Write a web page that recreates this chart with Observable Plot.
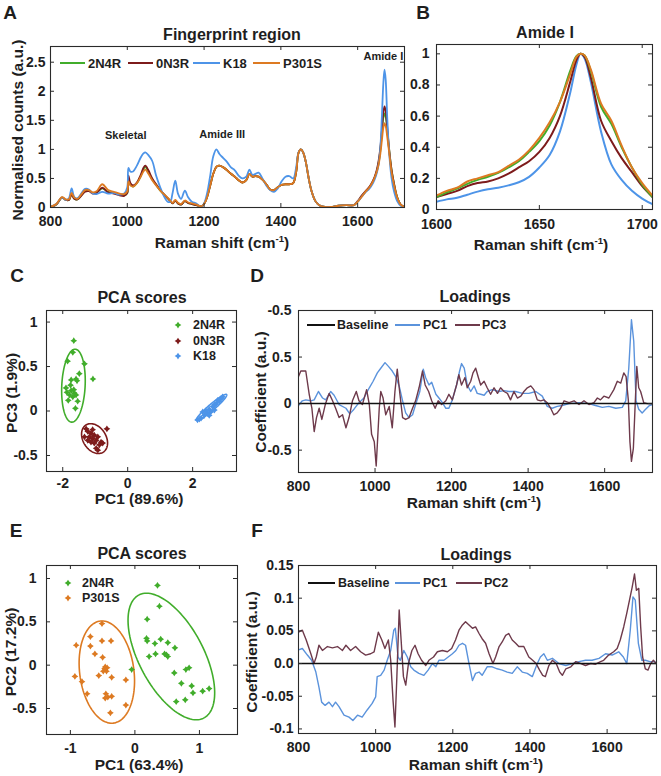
<!DOCTYPE html>
<html><head><meta charset="utf-8">
<script src="https://cdn.jsdelivr.net/npm/d3@7"></script>
<script src="https://cdn.jsdelivr.net/npm/@observablehq/plot@0.6"></script>
<style>
body{margin:0;background:#fff;}
#fig{position:relative;width:661px;height:776px;overflow:hidden;background:#fff;font-family:"Liberation Sans",Arial,Helvetica,sans-serif;font-weight:bold;color:#1e1e1e;}
sup{font-size:0.62em;line-height:0;vertical-align:0.6em;}
</style></head><body><div id="fig"></div>
<script>
// ---------------- DATA ----------------
// Panel A: fingerprint region spectra
const wnA = [800,815,830,840,848,855,862,870,880,890,900,910,920,935,950,965,980,992,1000,1003,1008,1015,1025,1035,1042,1047,1055,1065,1075,1085,1095,1105,1112,1118,1125,1132,1140,1150,1158,1168,1180,1192,1200,1208,1216,1224,1232,1240,1250,1260,1270,1280,1290,1300,1310,1318,1326,1334,1342,1352,1362,1372,1382,1392,1402,1412,1422,1432,1440,1446,1452,1458,1465,1472,1480,1490,1500,1515,1530,1550,1570,1590,1600,1610,1620,1630,1640,1648,1654,1659,1663,1667,1670,1673,1677,1682,1688,1695,1703,1712,1722];
const a2N4R = [0.01,0.05,0.17,0.13,0.13,0.23,0.15,0.14,0.21,0.28, 0.29,0.25,0.26,0.33,0.27,0.25,0.22,0.21,0.25,0.50, 0.39,0.36,0.42,0.54,0.66,0.70,0.61,0.48,0.39,0.30, 0.23,0.16,0.11,0.07,0.12,0.07,0.05,0.11,0.08,0.06, 0.04,0.02,0.06,0.18,0.38,0.58,0.70,0.72,0.69,0.64, 0.58,0.53,0.47,0.43,0.47,0.58,0.53,0.54,0.53,0.48, 0.40,0.31,0.30,0.35,0.39,0.40,0.40,0.42,0.62,0.94, 1.00,0.95,0.78,0.52,0.28,0.11,0.04,0.01,0.01,0.03, 0.04,0.04,0.10,0.19,0.27,0.34,0.45,0.58,0.75,0.98, 1.28,1.55,1.62,1.56,1.33,1.00,0.66,0.40,0.18,0.05,0.01];
const a0N3R = [0.01,0.05,0.17,0.13,0.13,0.22,0.15,0.14,0.20,0.27, 0.28,0.24,0.25,0.34,0.26,0.24,0.21,0.20,0.25,0.55, 0.42,0.38,0.43,0.56,0.68,0.72,0.64,0.50,0.40,0.31, 0.23,0.16,0.11,0.07,0.12,0.07,0.05,0.11,0.08,0.06, 0.04,0.02,0.06,0.18,0.38,0.58,0.70,0.72,0.69,0.64, 0.58,0.53,0.47,0.43,0.47,0.58,0.53,0.54,0.53,0.48, 0.40,0.31,0.30,0.35,0.39,0.40,0.40,0.42,0.62,0.94, 1.00,0.95,0.78,0.52,0.28,0.11,0.04,0.01,0.01,0.03, 0.04,0.04,0.11,0.20,0.28,0.35,0.46,0.60,0.78,1.02, 1.32,1.64,1.74,1.66,1.38,1.00,0.66,0.40,0.17,0.05,0.01];
const aK18 = [0.01,0.06,0.17,0.13,0.16,0.33,0.18,0.16,0.24,0.32, 0.31,0.24,0.23,0.27,0.24,0.25,0.22,0.24,0.35,0.68, 0.62,0.62,0.72,0.86,0.93,0.95,0.90,0.80,0.55,0.36, 0.20,0.10,0.10,0.25,0.46,0.24,0.15,0.29,0.18,0.10, 0.07,0.01,0.07,0.25,0.55,0.88,1.00,0.92,0.85,0.78, 0.69,0.64,0.55,0.50,0.53,0.65,0.56,0.58,0.60,0.50, 0.38,0.30,0.27,0.33,0.45,0.53,0.54,0.50,0.70,0.95, 1.00,0.95,0.78,0.52,0.28,0.11,0.04,0.01,0.01,0.03, 0.04,0.04,0.10,0.18,0.26,0.32,0.42,0.55,0.72,1.02, 1.55,2.15,2.37,2.20,1.55,0.95,0.52,0.27,0.11,0.03,0.01];
const aP301S = [0.01,0.06,0.18,0.14,0.14,0.25,0.17,0.15,0.22,0.30, 0.30,0.26,0.28,0.40,0.30,0.27,0.24,0.23,0.28,0.45, 0.38,0.36,0.42,0.53,0.62,0.65,0.58,0.47,0.38,0.30, 0.23,0.17,0.12,0.08,0.13,0.08,0.06,0.12,0.09,0.07, 0.05,0.02,0.06,0.18,0.38,0.58,0.70,0.72,0.69,0.64, 0.58,0.53,0.47,0.43,0.47,0.58,0.53,0.54,0.53,0.48, 0.40,0.31,0.30,0.35,0.39,0.40,0.40,0.42,0.62,0.94, 1.00,0.95,0.78,0.52,0.28,0.11,0.04,0.01,0.01,0.03, 0.04,0.04,0.10,0.18,0.27,0.34,0.45,0.58,0.72,0.92, 1.15,1.38,1.45,1.40,1.22,0.95,0.62,0.38,0.17,0.05,0.01];
const annA = [{label:"Skeletal", x:996, y:1.24},{label:"Amide III", x:1247, y:1.26},{label:"Amide I", x:1667, y:2.6}];

// Panel B: amide I normalised
const wnB = [1600,1605,1610,1615,1620,1625,1630,1635,1640,1645,1650,1655,1660,1665,1668,1670,1672,1675,1680,1685,1690,1695,1700,1705];
const b2N4R = [0.08,0.11,0.135,0.165,0.19,0.21,0.235,0.27,0.31,0.37,0.44,0.54,0.69,0.89,0.985,1.0,0.99,0.89,0.66,0.55,0.40,0.27,0.16,0.08];
const b0N3R = [0.08,0.10,0.12,0.15,0.17,0.18,0.20,0.23,0.27,0.31,0.37,0.46,0.60,0.82,0.96,1.0,0.98,0.85,0.57,0.44,0.33,0.24,0.15,0.08];
const bK18 = [0.05,0.065,0.075,0.095,0.115,0.13,0.14,0.155,0.175,0.21,0.27,0.35,0.50,0.75,0.93,1.0,0.97,0.82,0.50,0.29,0.19,0.12,0.07,0.035];
const bP301S = [0.09,0.12,0.14,0.18,0.20,0.22,0.24,0.28,0.32,0.38,0.46,0.56,0.69,0.87,0.98,1.0,0.99,0.90,0.68,0.57,0.41,0.27,0.17,0.09];

// Panel C: PCA scores (PC1 vs PC3)
const c2N4R = [[-1.66,0.79],[-1.69,0.66],[-1.85,0.56],[-1.33,0.53],[-1.07,0.36],[-1.49,0.42],[-1.59,0.36],[-1.74,0.35],[-1.76,0.29],[-1.90,0.26],[-1.64,0.20],[-1.79,0.18],[-1.69,0.16],[-1.59,0.18],[-1.83,0.12],[-1.54,0.11],[-1.61,0.03],[-1.74,0.23],[-1.87,0.21],[-1.66,0.24],[-1.56,0.34]];
const c0N3R = [[-1.28,-0.20],[-1.23,-0.23],[-1.13,-0.25],[-1.03,-0.27],[-1.18,-0.29],[-1.08,-0.31],[-0.97,-0.33],[-0.92,-0.29],[-1.13,-0.35],[-1.03,-0.36],[-0.82,-0.35],[-0.87,-0.38],[-0.97,-0.42],[-0.92,-0.44],[-1.23,-0.33],[-1.33,-0.29],[-0.64,-0.20],[-0.77,-0.36],[-1.08,-0.21]];
const cK18 = [[2.15,-0.10],[2.26,-0.08],[2.36,-0.05],[2.31,-0.01],[2.46,-0.03],[2.51,0.02],[2.62,0.05],[2.67,0.01],[2.72,0.08],[2.82,0.11],[2.87,0.14],[2.77,0.12],[2.56,-0.01],[2.41,0.00],[2.21,-0.09],[2.92,0.16],[2.67,0.07],[2.51,-0.05]];
// ellipse parameters: centre and affine axes
const ellC = [
  {g:"2N4R", cx:-1.67, cy:0.285, a:0.36, b:0.05, c:0.0, d:0.41},
  {g:"0N3R", cx:-1.02, cy:-0.31, a:0.40, b:0.0, c:-0.05, d:0.16},
  {g:"K18", cx:2.58, cy:0.04, a:0.47, b:0.0, c:0.14, d:0.045}
];

// Panel D: loadings PC1 / PC3
const wnDpc1 = [800,810,819,832,841,852,863,871,884,893,906,924,934,945,958,971,985,995,1006,1015,1026,1035,1045,1054,1063,1072,1080,1089,1098,1106,1117,1126,1132,1141,1148,1159,1167,1176,1185,1193,1202,1213,1221,1226,1233,1241,1250,1259,1267,1276,1285,1293,1306,1324,1337,1350,1367,1385,1402,1420,1437,1450,1463,1476,1489,1507,1533,1559,1576,1594,1611,1629,1646,1655,1663,1670,1676,1682,1689,1698,1707,1717,1725];
const dPC1 = [-0.02,0.03,0.04,0.03,0.04,0.13,0.06,0.04,0.13,0.09,-0.01,-0.05,-0.11,-0.06,0.01,0.06,0.17,0.24,0.33,0.38,0.44,0.40,0.35,0.29,0.19,0.03,-0.10,-0.15,-0.12,-0.01,0.13,0.37,0.28,0.20,0.23,0.10,0.06,0.01,-0.05,-0.05,0.04,0.20,0.35,0.43,0.38,0.20,0.13,0.19,0.11,0.10,0.09,0.13,0.15,0.13,0.14,0.13,0.13,0.11,0.11,0.13,0.08,-0.03,-0.05,-0.03,-0.02,0.00,0.01,0.00,-0.02,-0.04,-0.03,-0.05,-0.04,0.03,0.38,0.90,0.67,0.03,-0.06,-0.10,-0.06,-0.02,-0.01];
const wnDpc3 = [800,806,819,828,835,841,847,854,861,870,880,889,897,906,915,924,932,941,951,958,967,978,985,991,998,1003,1006,1011,1015,1021,1028,1037,1045,1052,1058,1065,1072,1080,1089,1098,1106,1115,1124,1131,1140,1148,1157,1165,1174,1185,1193,1202,1213,1219,1226,1235,1241,1250,1256,1263,1270,1276,1285,1293,1302,1311,1320,1328,1337,1346,1354,1363,1372,1381,1389,1398,1407,1415,1424,1433,1441,1450,1459,1467,1476,1485,1494,1507,1520,1533,1546,1559,1572,1581,1589,1598,1611,1624,1633,1642,1650,1656,1662,1666,1670,1675,1679,1684,1689,1694,1702,1711,1724];
const dPC3 = [0.29,0.35,0.35,0.10,-0.05,-0.30,-0.15,-0.05,-0.17,-0.01,0.11,0.03,-0.05,-0.15,-0.12,-0.26,-0.15,0.03,0.13,0.03,-0.01,0.15,-0.01,-0.33,-0.41,-0.67,-0.44,-0.05,0.13,0.06,-0.12,-0.03,-0.26,0.13,0.37,0.10,-0.15,-0.17,-0.15,-0.05,0.03,0.17,0.35,0.20,0.13,0.03,-0.05,0.03,-0.01,0.03,0.10,0.04,0.20,0.31,0.20,0.28,0.17,0.24,0.33,0.38,0.28,0.20,0.24,0.17,0.10,0.17,0.11,0.17,0.13,0.11,0.04,0.13,0.06,0.08,0.13,0.17,0.19,0.15,0.04,0.03,0.04,0.01,-0.05,-0.12,-0.10,-0.05,0.03,0.01,0.03,-0.01,0.03,-0.01,0.01,0.06,0.04,0.08,0.06,0.15,0.24,0.22,0.33,0.29,0.03,-0.41,-0.62,-0.48,-0.08,0.40,0.17,0.13,0.01,0.00,0.00];
const dYTicks = [-0.5,0,0.5,1];
const dYLabels = ["-0.5","0","0.5","-0.5"];

// Panel E: PCA scores (PC1 vs PC2)
const e2N4R = [[0.35,0.92],[0.38,0.68],[0.19,0.53],[0.18,0.31],[0.19,0.28],[0.31,0.25],[0.40,0.30],[0.51,0.26],[0.62,0.20],[0.46,0.13],[0.49,0.12],[0.51,0.10],[0.32,0.13],[0.22,0.10],[-0.05,-0.05],[0.61,-0.09],[0.79,-0.05],[0.84,-0.03],[0.72,-0.21],[0.88,-0.24],[0.90,-0.32],[1.05,-0.30],[1.15,-0.27],[0.64,-0.42],[0.78,-0.40]];
const eP301S = [[-0.51,0.48],[-0.69,0.33],[-0.51,0.28],[-0.37,0.28],[-0.91,0.23],[-0.69,0.22],[-0.62,0.13],[-0.50,0.09],[-0.46,-0.02],[-0.43,-0.03],[-0.49,-0.07],[-0.36,-0.14],[-0.56,-0.12],[-0.44,-0.07],[-0.93,-0.13],[-0.82,-0.19],[-0.14,-0.17],[-0.74,-0.33],[-0.45,-0.33],[-0.42,-0.37],[-0.36,-0.36],[-0.46,-0.38],[-0.14,-0.46],[-0.38,-0.55],[-0.47,-0.04]];
const ellE = [
  {g:"2N4R", cx:0.565, cy:0.10, a:0.55, b:-0.385, c:0.0, d:0.73},
  {g:"P301S", cx:-0.435, cy:-0.08, a:0.423, b:-0.075, c:0.0, d:0.59}
];

// Panel F: loadings PC1 / PC2
const wnFpc1 = [800,810,823,834,845,853,860,869,879,888,896,905,918,931,941,953,965,978,991,1000,1004,1013,1022,1030,1039,1047,1051,1058,1064,1073,1082,1091,1099,1112,1125,1136,1147,1156,1164,1177,1188,1199,1208,1216,1225,1233,1242,1251,1259,1268,1276,1289,1302,1315,1328,1341,1354,1367,1380,1393,1406,1419,1427,1436,1445,1458,1475,1493,1510,1527,1544,1561,1579,1596,1613,1630,1642,1651,1660,1667,1673,1681,1690,1699,1711,1724];
const fPC1 = [0.021,0.023,0.013,0.005,-0.013,-0.036,-0.059,-0.064,-0.059,-0.066,-0.059,-0.066,-0.079,-0.082,-0.087,-0.079,-0.082,-0.071,-0.061,-0.051,-0.020,-0.018,-0.010,0.005,0.020,0.051,0.054,0.010,0.005,0.020,0.010,-0.005,-0.010,-0.015,-0.018,-0.010,0.000,-0.005,0.005,0.005,0.010,0.015,0.020,0.028,0.031,0.028,0.000,-0.026,-0.015,-0.013,-0.018,-0.005,-0.005,-0.008,-0.010,-0.013,-0.015,-0.005,-0.013,-0.015,-0.020,0.000,0.010,0.015,0.005,0.008,0.000,-0.003,0.000,0.003,0.005,0.005,0.008,0.015,0.013,0.018,0.010,0.000,0.051,0.102,0.097,0.031,0.005,0.005,0.003,0.003];
const wnFpc2 = [800,810,820,832,840,846,853,862,875,888,901,914,923,935,948,961,974,987,996,1007,1016,1024,1033,1039,1045,1050,1055,1061,1066,1072,1078,1085,1094,1102,1110,1119,1130,1138,1150,1160,1173,1186,1197,1207,1216,1225,1233,1242,1251,1259,1268,1276,1285,1294,1304,1311,1320,1328,1337,1345,1354,1363,1371,1384,1397,1407,1416,1425,1433,1440,1449,1458,1468,1477,1484,1493,1506,1519,1532,1544,1557,1570,1583,1591,1604,1617,1626,1634,1643,1651,1658,1665,1671,1676,1682,1687,1692,1699,1706,1713,1720,1727];
const fPC2 = [0.048,0.051,0.036,0.015,0.000,0.010,0.028,0.020,0.026,0.024,0.026,0.020,0.028,0.020,0.026,0.018,0.013,0.015,0.018,0.048,0.036,0.023,0.036,0.005,-0.056,-0.097,-0.020,0.082,0.036,-0.020,-0.033,0.000,0.020,0.028,0.015,0.005,-0.003,0.005,0.010,0.018,0.020,0.018,0.023,0.036,0.051,0.059,0.064,0.059,0.054,0.056,0.046,0.038,0.031,0.015,0.000,0.010,0.026,0.033,0.043,0.046,0.036,0.031,0.026,0.026,0.010,0.005,0.000,-0.010,-0.018,-0.020,-0.003,0.005,0.000,-0.013,-0.018,-0.008,-0.005,0.003,0.000,-0.003,0.000,-0.001,0.003,0.005,0.013,0.018,0.023,0.036,0.056,0.077,0.097,0.117,0.137,0.112,0.115,0.056,0.010,-0.008,-0.010,0.000,0.005,0.000];
const fYTicks = [-0.1,-0.05,0,0.05,0.1,0.15];
const fYLabels = ["-0.1","-0.05","0.0","0.05","0.1","0.15"];

// names and colours
const groups = ["2N4R","0N3R","K18","P301S"];
const groupColors = {"2N4R":"#41ad2b","0N3R":"#7d1b1b","K18":"#4d94e8","P301S":"#dd7a22"};
const loadNames = ["Baseline","PC1","PC3","PC2"];
const loadColors = {"Baseline":"#111111","PC1":"#5b93dc","PC3":"#6e3a4b","PC2":"#6e3a4b"};

// ---------------- HELPERS ----------------
const fig = document.getElementById("fig");
const FONT = '"Liberation Sans", Arial, Helvetica, sans-serif';
const INK = "#1e1e1e";
const zipXY = (xs, ys, g) => xs.map((x, i) => ({x, y: ys[i], g}));
const pairs = (arr, g) => arr.map(([x, y]) => ({x, y, g}));
function ellipsePts(e, n = 120) {
  return d3.range(n + 1).map(i => {
    const t = 2 * Math.PI * i / n;
    return {x: e.cx + e.a * Math.cos(t) + e.b * Math.sin(t), y: e.cy + e.c * Math.cos(t) + e.d * Math.sin(t), g: e.g};
  });
}
const sparkle = {draw(ctx, size) {
  const s = Math.sqrt(size / Math.PI) * 1.35, k = s * 0.4;
  ctx.moveTo(0, -s); ctx.lineTo(k, -k); ctx.lineTo(s, 0); ctx.lineTo(k, k);
  ctx.lineTo(0, s); ctx.lineTo(-k, k); ctx.lineTo(-s, 0); ctx.lineTo(-k, -k); ctx.closePath();
}};

function addText(html, x, y, size, {rotate = false, align = "center"} = {}) {
  const d = document.createElement("div");
  d.innerHTML = html;
  d.style.cssText = `position:absolute;left:${x}px;top:${y}px;font-size:${size}px;line-height:1;white-space:nowrap;font-weight:bold;`;
  let tr = align === "center" ? "translate(-50%,-50%)" : "translate(0,-50%)";
  if (rotate) tr += " rotate(-90deg)";
  d.style.transform = tr;
  fig.appendChild(d);
}
function addSwatch(x1, x2, y, color, w = 2) {
  const d = document.createElement("div");
  d.style.cssText = `position:absolute;left:${x1}px;top:${y - w / 2}px;width:${x2 - x1}px;height:${w}px;background:${color};`;
  fig.appendChild(d);
}
function addMarker(x, y, color) {
  const ns = "http://www.w3.org/2000/svg";
  const s = document.createElementNS(ns, "svg");
  s.setAttribute("width", 10); s.setAttribute("height", 10);
  s.style.cssText = `position:absolute;left:${x - 5}px;top:${y - 5}px;overflow:visible`;
  const p = d3.path();
  sparkle.draw({moveTo:(a,b)=>p.moveTo(a+5,b+5), lineTo:(a,b)=>p.lineTo(a+5,b+5), closePath:()=>p.closePath()}, Math.PI * 2.5 * 2.5);
  s.innerHTML = `<path d="${p.toString()}" fill="${color}"/>`;
  fig.appendChild(s);
}

function panel({frame: [L, T, R, B], xDomain, yDomain, xTicks, yTicks, xFmt, yFmt, xPad, yPad, marks}) {
  const mL = 50, mR = 14, mT = 14, mB = 32;
  const W = R - L, H = B - T;
  const svg = Plot.plot({
    width: W + mL + mR, height: H + mT + mB,
    marginLeft: mL, marginRight: mR, marginTop: mT, marginBottom: mB,
    x: {domain: xDomain}, y: {domain: yDomain},
    style: {background: "transparent", fontFamily: FONT, fontSize: "14px", fontWeight: "bold", color: INK, overflow: "visible"},
    marks: [
      ...marks,
      Plot.frame({stroke: "#2a2a2a", strokeWidth: 1.1}),
      Plot.tickX(xTicks, {x: d => d, insetTop: H - 4, stroke: "#2a2a2a"}),
      Plot.tickX(xTicks, {x: d => d, insetBottom: H - 4, stroke: "#2a2a2a"}),
      Plot.tickY(yTicks, {y: d => d, insetRight: W - 4, stroke: "#2a2a2a"}),
      Plot.tickY(yTicks, {y: d => d, insetLeft: W - 4, stroke: "#2a2a2a"}),
      Plot.axisX({ticks: xTicks, tickSize: 0, tickPadding: xPad, tickFormat: xFmt, label: null}),
      Plot.axisY({ticks: yTicks, tickSize: 0, tickPadding: yPad, tickFormat: yFmt, label: null})
    ]
  });
  svg.style.position = "absolute";
  svg.style.left = (L - mL) + "px";
  svg.style.top = (T - mT) + "px";
  fig.appendChild(svg);
}
const intFmt = d3.format("d");
const plainFmt = d => String(d);
const colorOf = d => groupColors[d.g];

// ---------------- PANEL A ----------------
const dataA = [...zipXY(wnA, a2N4R, "2N4R"), ...zipXY(wnA, a0N3R, "0N3R"), ...zipXY(wnA, aK18, "K18"), ...zipXY(wnA, aP301S, "P301S")];
panel({
  frame: [50, 46, 404, 207], xDomain: [800, 1722], yDomain: [0, 2.77],
  xTicks: [800, 1000, 1200, 1400, 1600], yTicks: [0, 0.5, 1, 1.5, 2, 2.5],
  xFmt: intFmt, yFmt: plainFmt, xPad: 9, yPad: 5,
  marks: [
    Plot.line(dataA, {x: "x", y: "y", z: "g", stroke: colorOf, strokeWidth: 1.8, curve: "catmull-rom", clip: true}),
    Plot.text(annA, {x: "x", y: "y", text: "label", fontSize: 11, fontWeight: "bold", fill: INK})
  ]
});

// ---------------- PANEL B ----------------
const dataB = [...zipXY(wnB, bK18, "K18"), ...zipXY(wnB, b0N3R, "0N3R"), ...zipXY(wnB, b2N4R, "2N4R"), ...zipXY(wnB, bP301S, "P301S")];
panel({
  frame: [436, 44, 652, 209], xDomain: [1600, 1705], yDomain: [0, 1.06],
  xTicks: [1600, 1650, 1700], yTicks: [0, 0.2, 0.4, 0.6, 0.8, 1],
  xFmt: intFmt, yFmt: plainFmt, xPad: 10, yPad: 7,
  marks: [Plot.line(dataB, {x: "x", y: "y", z: "g", stroke: colorOf, strokeWidth: 2, curve: "catmull-rom", clip: true})]
});

// ---------------- PANEL C ----------------
const dataC = [...pairs(c2N4R, "2N4R"), ...pairs(c0N3R, "0N3R"), ...pairs(cK18, "K18")];
const ellCpts = ellC.flatMap(e => ellipsePts(e));
panel({
  frame: [46, 310, 236, 471], xDomain: [-2.5, 3.35], yDomain: [-0.68, 1.13],
  xTicks: [-2, 0, 2], yTicks: [-0.5, 0, 0.5, 1],
  xFmt: plainFmt, yFmt: plainFmt, xPad: 7, yPad: 9,
  marks: [
    Plot.line(ellCpts, {x: "x", y: "y", z: "g", stroke: colorOf, strokeWidth: 1.6}),
    Plot.dot(dataC, {x: "x", y: "y", fill: colorOf, symbol: sparkle, r: 2.5})
  ]
});

// ---------------- PANEL D ----------------
const dataD = [...zipXY(wnDpc1, dPC1, "PC1"), ...zipXY(wnDpc3, dPC3, "PC3")];
panel({
  frame: [298, 310, 652, 472], xDomain: [800, 1725], yDomain: [-0.74, 1.0],
  xTicks: [800, 1000, 1200, 1400, 1600], yTicks: dYTicks,
  xFmt: intFmt, yFmt: d => dYLabels[dYTicks.indexOf(d)], xPad: 9, yPad: 7,
  marks: [
    Plot.line(dataD, {x: "x", y: "y", z: "g", stroke: d => loadColors[d.g], strokeWidth: 1.4, clip: true}),
    Plot.ruleY([0], {stroke: loadColors.Baseline, strokeWidth: 1.5})
  ]
});

// ---------------- PANEL E ----------------
const dataE = [...pairs(e2N4R, "2N4R"), ...pairs(eP301S, "P301S")];
const ellEpts = ellE.flatMap(e => ellipsePts(e));
panel({
  frame: [46, 565, 237, 734], xDomain: [-1.37, 1.59], yDomain: [-0.8, 1.15],
  xTicks: [-1, 0, 1], yTicks: [-0.5, 0, 0.5, 1],
  xFmt: plainFmt, yFmt: plainFmt, xPad: 9, yPad: 10,
  marks: [
    Plot.line(ellEpts, {x: "x", y: "y", z: "g", stroke: colorOf, strokeWidth: 1.6}),
    Plot.dot(dataE, {x: "x", y: "y", fill: colorOf, symbol: sparkle, r: 2.5})
  ]
});

// ---------------- PANEL F ----------------
const dataF = [...zipXY(wnFpc1, fPC1, "PC1"), ...zipXY(wnFpc2, fPC2, "PC2")];
panel({
  frame: [298, 565, 656, 733], xDomain: [800, 1728], yDomain: [-0.107, 0.15],
  xTicks: [800, 1000, 1200, 1400, 1600], yTicks: fYTicks,
  xFmt: intFmt, yFmt: d => fYLabels[fYTicks.indexOf(d)], xPad: 9, yPad: 5,
  marks: [
    Plot.line(dataF, {x: "x", y: "y", z: "g", stroke: d => loadColors[d.g], strokeWidth: 1.4, clip: true}),
    Plot.ruleY([0], {stroke: loadColors.Baseline, strokeWidth: 1.5})
  ]
});

// ---------------- TEXT: titles, axis labels, letters ----------------
const raman = "Raman shift (cm<sup>-1</sup>)";
addText("Fingerprint region", 232, 35, 16);
addText("Amide I", 545, 33, 16);
addText("PCA scores", 142, 298, 16);
addText("Loadings", 475, 297, 16);
addText("PCA scores", 142, 554, 16);
addText("Loadings", 476, 555, 16);

addText(raman, 222, 243, 15.5);
addText(raman, 541, 245, 15.5);
addText("PC1 (89.6%)", 139, 499, 15.5);
addText(raman, 474, 503, 15.5);
addText("PC1 (63.4%)", 139, 765, 15.5);
addText(raman, 476, 765, 15.5);

addText("Normalised counts (a.u.)", 18, 130, 15.5, {rotate: true});
addText("PC3 (1.9%)", 12, 393, 15.5, {rotate: true});
addText("Coefficient (a.u.)", 261, 392, 15.5, {rotate: true});
addText("PC2 (17.2%)", 11, 652, 15.5, {rotate: true});
addText("Coefficient (a.u.)", 252, 652, 15.5, {rotate: true});

addText("A", 10, 12, 19); addText("B", 423, 12, 19);
addText("C", 17, 275, 19); addText("D", 257, 275, 19);
addText("E", 16, 530, 19); addText("F", 257, 530, 19);

// ---------------- LEGENDS ----------------
const legA = [[60, 85, 88], [128, 153, 156], [193, 220, 223], [253, 280, 283]];
groups.forEach((g, i) => { addSwatch(legA[i][0], legA[i][1], 63, groupColors[g], 2); addText(g, legA[i][2], 63, 13, {align: "left"}); });

const legD = [["Baseline", 307, 335, 337], ["PC1", 395, 420, 423], ["PC3", 455, 480, 482]];
legD.forEach(([n, a, b, t]) => { addSwatch(a, b, 325, loadColors[n], n === "Baseline" ? 2 : 1.6); addText(n, t, 325, 12.5, {align: "left"}); });
const legF = [["Baseline", 308, 335, 338], ["PC1", 395, 420, 423], ["PC2", 456, 482, 484]];
legF.forEach(([n, a, b, t]) => { addSwatch(a, b, 583, loadColors[n], n === "Baseline" ? 2 : 1.6); addText(n, t, 583, 12.5, {align: "left"}); });

const legC = ["2N4R", "0N3R", "K18"];
legC.forEach((g, i) => { const y = 325 + i * 15.5; addMarker(178, y, groupColors[g]); addText(g, 193, y, 12.5, {align: "left"}); });
const legE = ["2N4R", "P301S"];
legE.forEach((g, i) => { const y = 583 + i * 15; addMarker(68, y, groupColors[g]); addText(g, 82, y, 12.5, {align: "left"}); });
</script>
</body></html>
